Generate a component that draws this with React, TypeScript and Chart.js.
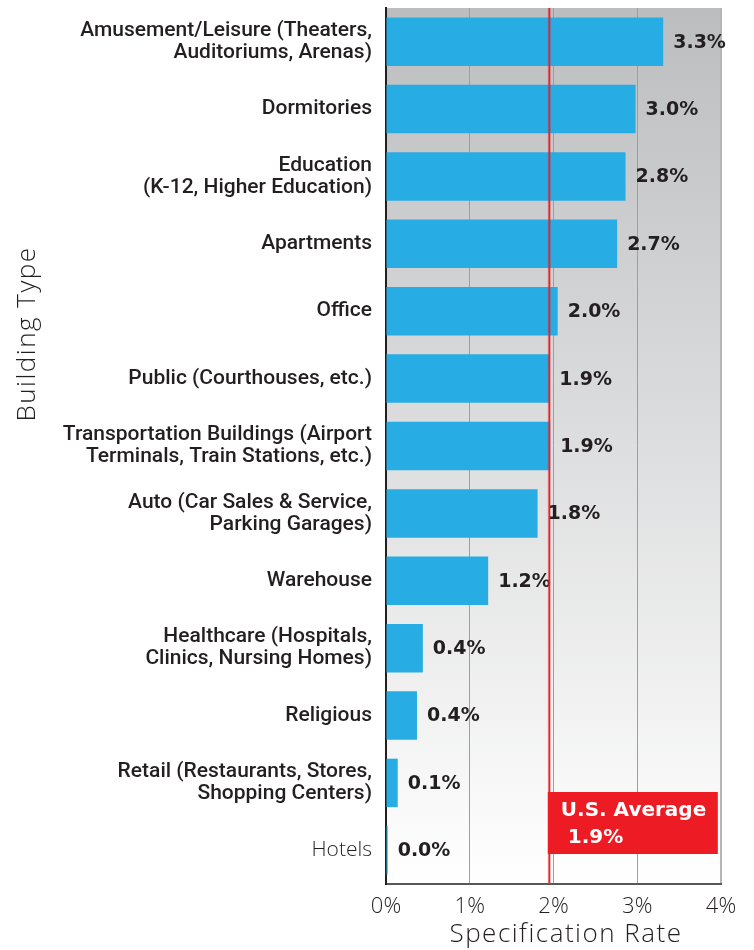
import React, { useEffect, useRef } from "react";
import { Chart, registerables } from "chart.js";

Chart.register(...registerables);

const categories: (string | string[])[] = [
  ["Amusement/Leisure (Theaters,", "Auditoriums, Arenas)"],
  "Dormitories",
  ["Education", "(K-12, Higher Education)"],
  "Apartments",
  "Office",
  "Public (Courthouses, etc.)",
  ["Transportation Buildings (Airport", "Terminals, Train Stations, etc.)"],
  ["Auto (Car Sales & Service,", "Parking Garages)"],
  "Warehouse",
  ["Healthcare (Hospitals,", "Clinics, Nursing Homes)"],
  "Religious",
  ["Retail (Restaurants, Stores,", "Shopping Centers)"],
  "Hotels",
];

const rates = [3.31, 2.98, 2.86, 2.76, 2.05, 1.95, 1.96, 1.81, 1.22, 0.44, 0.37, 0.14, 0.02];
const rateLabels = ["3.3%", "3.0%", "2.8%", "2.7%", "2.0%", "1.9%", "1.9%", "1.8%", "1.2%", "0.4%", "0.4%", "0.1%", "0.0%"];
const xTicks = [0, 1, 2, 3, 4];
const usAverage = 1.95;
const usAverageLines = ["U.S. Average", " 1.9%"];
const xTitle = "Specification Rate";
const yTitle = "Building Type";

const LABEL_FONT = "Roboto";
const LIGHT_FONT = "'Open Sans'";
const BOLD_FONT = "'DejaVu Sans'";

export default function App() {
  const ref = useRef<HTMLCanvasElement | null>(null);

  useEffect(() => {
    document.body.style.margin = "0";
    const canvas = ref.current!;

    const decor = {
      id: "decor",
      beforeDraw(chart: any) {
        const { ctx, chartArea } = chart;
        const g = ctx.createLinearGradient(0, chartArea.top, 0, chartArea.bottom);
        g.addColorStop(0, "#bcbdbf");
        g.addColorStop(1, "#ffffff");
        ctx.save();
        ctx.fillStyle = g;
        ctx.fillRect(chartArea.left, chartArea.top, chartArea.right - chartArea.left, chartArea.bottom - chartArea.top);
        ctx.restore();
      },
      afterDatasetsDraw(chart: any) {
        const { ctx, chartArea, scales } = chart;
        const x = scales.x;
        const y = scales.y;
        ctx.save();
        // value labels
        ctx.font = `bold 19px ${BOLD_FONT}`;
        ctx.fillStyle = "#231f20";
        ctx.textBaseline = "middle";
        ctx.textAlign = "left";
        rates.forEach((v, i) => {
          const px = x.getPixelForValue(v);
          const py = y.getPixelForValue(i);
          ctx.fillText(rateLabels[i], px + 10, py + 1);
        });
        // average line
        const ax = x.getPixelForValue(usAverage);
        ctx.strokeStyle = "rgba(237,28,36,0.35)";
        ctx.lineWidth = 3;
        ctx.beginPath();
        ctx.moveTo(ax, chartArea.top);
        ctx.lineTo(ax, chartArea.bottom);
        ctx.stroke();
        ctx.strokeStyle = "#e3242b";
        ctx.lineWidth = 1.5;
        ctx.beginPath();
        ctx.moveTo(ax, chartArea.top);
        ctx.lineTo(ax, chartArea.bottom);
        ctx.stroke();
        // average box
        const bx = ax - 1.5;
        const bw = 170;
        const bh = 62;
        const by = chartArea.bottom - 30 - bh;
        ctx.fillStyle = "#ed1c24";
        ctx.fillRect(bx, by, bw, bh);
        ctx.fillStyle = "#ffffff";
        ctx.font = `bold 20px ${BOLD_FONT}`;
        ctx.textBaseline = "alphabetic";
        ctx.fillText(usAverageLines[0], bx + 13, by + 24);
        ctx.fillText(usAverageLines[1], bx + 13, by + 51);
        ctx.restore();
      },
      afterDraw(chart: any) {
        const { ctx } = chart;
        ctx.save();
        ctx.fillStyle = "#231f20";
        ctx.font = `300 26px ${LIGHT_FONT}`;
        try {
          (ctx as any).letterSpacing = "1.5px";
        } catch (e) {}
        ctx.textAlign = "center";
        ctx.textBaseline = "middle";
        ctx.fillText(xTitle, 566, 935);
        ctx.translate(28, 334);
        ctx.rotate(-Math.PI / 2);
        ctx.fillText(yTitle, 0, 0);
        ctx.restore();
      },
    };

    const chart = new Chart(canvas, {
      type: "bar",
      data: {
        labels: categories,
        datasets: [
          {
            data: rates,
            backgroundColor: "#27ade3",
            borderWidth: 0,
            categoryPercentage: 1,
            barPercentage: 0.72,
          },
        ],
      },
      options: {
        indexAxis: "y",
        responsive: false,
        animation: false,
        layout: { padding: { top: 8, right: 33, left: 0, bottom: 0 } },
        plugins: {
          legend: { display: false },
          tooltip: { enabled: false },
        },
        scales: {
          x: {
            min: 0,
            max: 4,
            afterBuildTicks(scale: any) {
              scale.ticks = xTicks.map((v) => ({ value: v }));
            },
            afterFit(scale: any) {
              scale.height = 66;
            },
            grid: {
              color: (c: any) => (c.tick && c.tick.value === 4 ? "#b4b5b7" : "#9d9ea0"),
              lineWidth: (c: any) => (c.tick && c.tick.value === 4 ? 2 : 1),
              drawTicks: false,
            },
            border: { display: true, color: "#58585a", width: 2 },
            ticks: {
              padding: 10,
              color: "#231f20",
              font: { family: "Open Sans", size: 22, weight: "300" },
              callback: (v: any) => `${v}%`,
            },
          },
          y: {
            afterFit(scale: any) {
              scale.width = 386;
              scale.paddingTop = 0;
              scale.paddingBottom = 0;
            },
            grid: { display: false, drawTicks: false },
            border: { display: true, color: "#231f20", width: 2 },
            ticks: {
              padding: 14,
              color: "#231f20",
              font: (c: any) =>
                c.index === 12
                  ? { family: "Open Sans", size: 21, weight: "300", lineHeight: 1.04 }
                  : { family: LABEL_FONT, size: 21, weight: "500", lineHeight: 1.04 },
            },
          },
        },
      },
      plugins: [decor],
    });

    return () => chart.destroy();
  }, []);

  return <canvas ref={ref} width={754} height={950} style={{ display: "block" }} />;
}
